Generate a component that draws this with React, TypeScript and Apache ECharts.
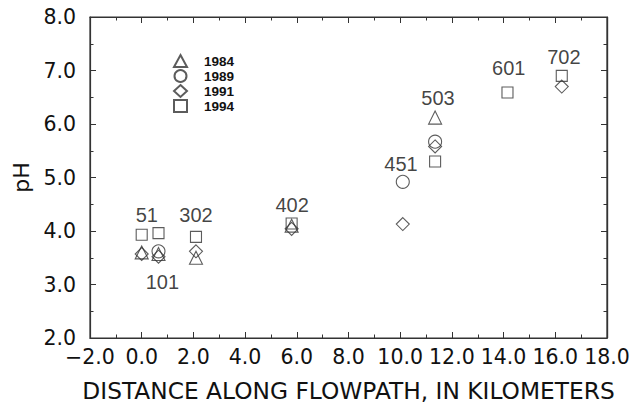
import React, { useEffect, useRef } from "react";
import * as echarts from "echarts";

const years = ["1984", "1989", "1991", "1994"];
const symbols = ["triangle", "circle", "diamond", "rect"];
const symbolSizes = [13, 13, 13, 11];

// [distance km, pH]
const data1984 = [[0.0, 3.6], [0.65, 3.57], [2.1, 3.5], [5.8, 4.1], [11.35, 6.12]];
const data1989 = [[0.65, 3.62], [10.1, 4.92], [11.35, 5.67]];
const data1991 = [[0.0, 3.57], [0.65, 3.52], [2.1, 3.62], [5.8, 4.04], [10.1, 4.13], [11.35, 5.58], [16.25, 6.7]];
const data1994 = [[0.0, 3.93], [0.65, 3.96], [2.1, 3.89], [5.8, 4.14], [11.35, 5.3], [14.15, 6.59], [16.25, 6.9]];
const yearData = [data1984, data1989, data1991, data1994];

const siteNames = ["51", "101", "302", "402", "451", "503", "601", "702"];
const siteLabelPos = [[0.2, 4.3], [0.8, 3.05], [2.1, 4.3], [5.82, 4.49], [10.03, 5.25], [11.46, 6.49], [14.2, 7.05], [16.33, 7.25]];

const xRange = [-2, 18];
const yRange = [2, 8];

const FONT = "'Liberation Sans', Arial, Helvetica, sans-serif";
const WIDE = "'DejaVu Sans', sans-serif";
const INK = "#111";

export default function App() {
  const ref = useRef<HTMLDivElement>(null);
  useEffect(() => {
    if (!ref.current) return;
    const chart = echarts.init(ref.current, null, { renderer: "svg" });
    const fmt = (v: number) => v.toFixed(1).replace("-", "\u2212");
    const axisLine = () => ({ show: true, onZero: false, lineStyle: { color: "#333", width: 1.2 } });
    const tick = () => ({ show: true, inside: true, length: 6, lineStyle: { color: "#333", width: 1 } });
    const minorTick = () => ({ show: true, splitNumber: 2, length: 3.5, lineStyle: { color: "#333", width: 1 } });
    const scatterSeries = years.map((y, i) => ({
      name: y,
      type: "scatter",
      symbol: symbols[i],
      symbolSize: symbolSizes[i],
      data: yearData[i],
      itemStyle: { color: "rgba(255,255,255,0)", borderColor: "#333", borderWidth: 1.1 },
      xAxisIndex: 0,
      yAxisIndex: 0,
      silent: true,
    }));
    chart.setOption({
      animation: false,
      grid: {
        left: 90, right: 25, top: 17, bottom: 65, containLabel: false,
        outerBoundsMode: "none",
        show: true, borderColor: "#333", borderWidth: 1.2, backgroundColor: "transparent",
      },
      legend: {
        data: years,
        orient: "vertical",
        left: 168,
        top: 49,
        itemGap: 1,
        itemWidth: 13,
        itemHeight: 12,
        textStyle: { fontFamily: FONT, fontSize: 13.5, fontWeight: "bold", color: INK, lineHeight: 14, padding: [0, 0, 0, 12] },
        selectedMode: false,
      },
      xAxis: [
        {
          type: "value",
          min: xRange[0],
          max: xRange[1],
          interval: 2,
          position: "bottom",
          axisLine: axisLine(),
          axisTick: tick(),
          minorTick: minorTick(),
          splitLine: { show: false },
          axisLabel: { formatter: fmt, fontFamily: WIDE, fontSize: 20.5, color: INK, margin: 8 },
          name: "DISTANCE ALONG FLOWPATH, IN KILOMETERS",
          nameLocation: "middle",
          nameGap: 41,
          nameTextStyle: { fontFamily: WIDE, fontSize: 23.3, color: INK },
        },
        {
          type: "value",
          min: xRange[0],
          max: xRange[1],
          interval: 2,
          position: "top",
          axisLine: axisLine(),
          axisTick: tick(),
          minorTick: minorTick(),
          splitLine: { show: false },
          axisLabel: { show: false },
        },
      ],
      yAxis: [
        {
          type: "value",
          min: yRange[0],
          max: yRange[1],
          interval: 1,
          position: "left",
          axisLine: axisLine(),
          axisTick: tick(),
          minorTick: minorTick(),
          splitLine: { show: false },
          axisLabel: { formatter: fmt, fontFamily: WIDE, fontSize: 20.5, color: INK, margin: 14 },
          name: "pH",
          nameLocation: "middle",
          nameGap: 58,
          nameTextStyle: { fontFamily: WIDE, fontSize: 22, color: INK },
        },
        {
          type: "value",
          min: yRange[0],
          max: yRange[1],
          interval: 1,
          position: "right",
          axisLine: axisLine(),
          axisTick: tick(),
          minorTick: minorTick(),
          splitLine: { show: false },
          axisLabel: { show: false },
        },
      ],
      series: [
        ...scatterSeries,
        {
          name: "sites",
          type: "scatter",
          symbolSize: 0,
          silent: true,
          xAxisIndex: 1,
          yAxisIndex: 1,
          data: siteNames.map((n, i) => ({ name: n, value: siteLabelPos[i] })),
          label: {
            show: true,
            position: "inside",
            formatter: (p: any) => p.name,
            fontFamily: FONT,
            fontSize: 20,
            color: INK,
            textBorderWidth: 0,
          },
          markLine: {
            silent: true,
            symbol: "none",
            label: { show: false },
            lineStyle: { color: "#333", width: 1.2, type: "solid" },
            data: [
              [{ coord: [xRange[0], yRange[1]] }, { coord: [xRange[1], yRange[1]] }],
              [{ coord: [xRange[1], yRange[0]] }, { coord: [xRange[1], yRange[1]] }],
            ],
          },
        },
      ],
    });
    return () => chart.dispose();
  }, []);
  return <div ref={ref} style={{ position: "absolute", left: 0, top: 0, width: 632, height: 403 }} />;
}
